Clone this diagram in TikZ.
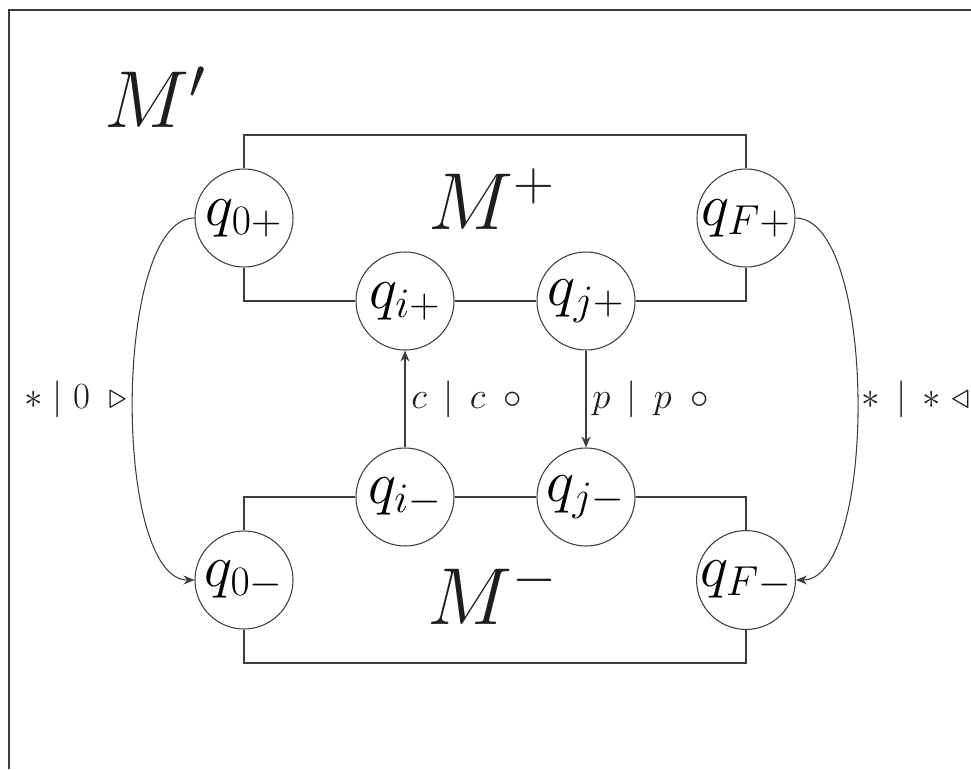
\documentclass[tikz,border=0pt]{standalone}
\usepackage{fix-cm}
\usepackage{amsmath,amssymb}
\usepackage{xcolor}
\usepackage{tikz}
\usetikzlibrary{arrows.meta}
\definecolor{ink}{HTML}{1E1E1E}
\definecolor{wire}{HTML}{3C3C3C}

\begin{document}
\begin{tikzpicture}[st/.style={circle,draw=wire,line width=0.6pt,minimum size=1.96cm,inner sep=0pt,font=\fontsize{34}{38}\selectfont},ln/.style={draw=wire,line width=0.9pt},arr/.style={-{Stealth[length=2.2mm,width=1.8mm]},draw=wire,line width=0.6pt},lab/.style={font=\fontsize{21}{25}\selectfont,text=ink},big/.style={font=\fontsize{46}{50}\selectfont,text=ink}]
\useasboundingbox (0,0) rectangle (19.42,-15.38);
\draw[draw=wire,line width=1.1pt] (0.18,-15.38) -- (0.18,-0.20) -- (19.42,-0.20);
\node[big] (mprime) at (3.1,-1.94) {$M'$};
\node[big] (mplus) at (9.84,-3.98) {$M^+$};
\node[big] (mminus) at (9.84,-11.86) {$M^-$};
\node[st] (q0p) at (4.88,-4.36) {$q_{0+}$};
\node[st] (qFp) at (14.92,-4.36) {$q_{F+}$};
\node[st] (qip) at (8.10,-6.02) {$q_{i+}$};
\node[st] (qjp) at (11.72,-6.02) {$q_{j+}$};
\node[st] (qim) at (8.10,-9.94) {$q_{i-}$};
\node[st] (qjm) at (11.72,-9.94) {$q_{j-}$};
\node[st] (q0m) at (4.88,-11.60) {$q_{0-}$};
\node[st] (qFm) at (14.92,-11.60) {$q_{F-}$};
\coordinate (ptl) at (4.88,-2.70);\coordinate (ptr) at (14.92,-2.70);\coordinate (mbl) at (4.88,-13.26);\coordinate (mbr) at (14.92,-13.26);
% M+ and M- outlines
\draw[ln] (q0p) -- (ptl) -- (ptr) -- (qFp);\draw[ln] (q0p) |- (qip);\draw[ln] (qip) -- (qjp);\draw[ln] (qjp) -| (qFp);
\draw[ln] (q0m) |- (qim);\draw[ln] (qim) -- (qjm);\draw[ln] (qjm) -| (qFm);\draw[ln] (q0m) -- (mbl) -- (mbr) -- (qFm);
% transitions
\draw[arr] (qim) -- node[right,lab]{$c \,\mid\, c \enspace\circ$} (qip);
\draw[arr] (qjp) -- node[right,lab]{$p \,\mid\, p \enspace\circ$} (qjm);
\draw[arr] (q0p) to[out=180,in=180,looseness=0.58] node[left,lab]{$\ast \mid 0 \enspace\triangleright$} (q0m);
\draw[arr] (qFp) to[out=0,in=0,looseness=0.58] node[right,lab,inner sep=2pt]{$\ast \,\mid\, \ast \;\triangleleft$} (qFm);
\end{tikzpicture}
\end{document}
